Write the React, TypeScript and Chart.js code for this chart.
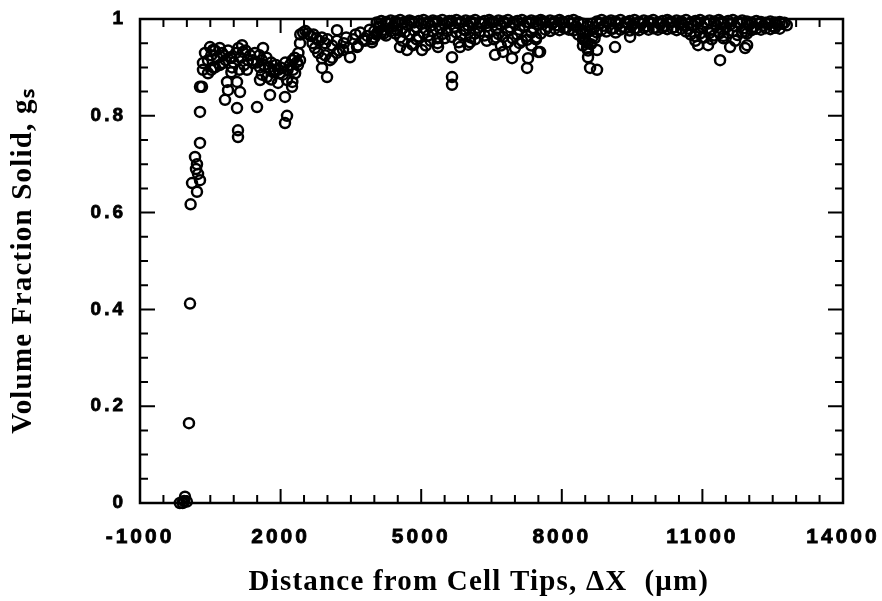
import React, { useEffect, useRef } from 'react';
import { Chart, registerables } from 'chart.js';

Chart.register(...registerables);

type P = [number, number];

// Distance from cell tips (µm), volume fraction solid
const tipPoints: P[] = [
  [-150, 0.0], [-90, 0.0], [-40, 0.013], [0, 0.003], [-60, 0.004], [45, 0.165], [67, 0.412],
  [80, 0.617], [110, 0.661], [216, 0.643], [280, 0.667], [174, 0.715], [216, 0.7], [238, 0.68],
  [195, 0.69], [280, 0.744], [280, 0.808], [323, 0.86],
];

const mushyZonePoints: P[] = [
  [494, 0.942], [558, 0.936], [387, 0.93], [1177, 0.946], [1198, 0.932], [1625, 0.94], [750, 0.93],
  [344, 0.909], [344, 0.895], [451, 0.888], [558, 0.9], [771, 0.909], [921, 0.921], [963, 0.9],
  [1305, 0.915], [1283, 0.895], [1411, 0.909], [1561, 0.9], [1561, 0.874], [1710, 0.88], [1881, 0.895],
  [1988, 0.888], [1945, 0.868], [2137, 0.874], [2265, 0.895], [2350, 0.911], [2244, 0.86], [280, 0.86],
  [857, 0.87], [1070, 0.87], [1134, 0.849], [878, 0.853], [814, 0.833], [1070, 0.816], [1497, 0.818],
  [1774, 0.843], [2094, 0.839], [2137, 0.8], [2094, 0.785], [1091, 0.77], [1091, 0.756],
  [450, 0.915], [520, 0.925], [600, 0.935], [650, 0.92], [700, 0.94], [780, 0.925], [830, 0.915],
  [880, 0.935], [950, 0.92], [1000, 0.91], [1050, 0.93], [1100, 0.94], [1150, 0.92], [1220, 0.905],
  [1250, 0.935], [1350, 0.925], [1400, 0.915], [1450, 0.93], [1500, 0.91], [1550, 0.925], [1600, 0.915],
  [1650, 0.905], [1700, 0.92], [1750, 0.9], [1800, 0.91], [1850, 0.89], [1900, 0.905], [1950, 0.895],
  [2000, 0.9], [2050, 0.885], [2100, 0.91], [2150, 0.895], [2200, 0.905], [2250, 0.915], [2300, 0.92],
  [2380, 0.93], [600, 0.9], [700, 0.905], [520, 0.895], [950, 0.89], [1120, 0.895], [1800, 0.875],
  [1600, 0.885], [2414, 0.915], [2370, 0.905], [2310, 0.888], [2250, 0.87],
];

const transitionPoints: P[] = [
  [2420, 0.968], [2480, 0.972], [2530, 0.975], [2580, 0.97], [2640, 0.965], [2700, 0.968], [2760, 0.96],
  [2820, 0.955], [2880, 0.962], [2950, 0.95], [3000, 0.958], [3204, 0.977], [2414, 0.95], [2734, 0.94],
  [2680, 0.95], [2800, 0.93], [2884, 0.919], [2884, 0.899], [2950, 0.925], [2991, 0.88], [3055, 0.915],
  [3100, 0.92], [3100, 0.945], [3204, 0.93], [3200, 0.955], [3250, 0.935], [3332, 0.936], [3350, 0.95],
  [3400, 0.962], [3450, 0.94], [3481, 0.921], [3550, 0.958], [3600, 0.968], [3631, 0.942], [3650, 0.945],
  [3700, 0.972], [3759, 0.957], [3800, 0.955], [3900, 0.978], [3951, 0.952], [4000, 0.962], [4058, 0.971],
  [4100, 0.985], [4200, 0.97], [4271, 0.992], [4300, 0.99], [4484, 0.977], [4548, 0.942], [4698, 0.936],
];

const dipPoints: P[] = [
  [4826, 0.946], [5018, 0.936], [5359, 0.942], [5658, 0.921], [5658, 0.88], [5658, 0.864], [5829, 0.942],
  [6042, 0.952], [6576, 0.926], [6746, 0.932], [6938, 0.919], [7259, 0.899], [7280, 0.919], [7493, 0.932],
  [7259, 0.957], [7536, 0.932], [8454, 0.96], [8539, 0.94], [8560, 0.921], [8603, 0.899], [8752, 0.895],
  [8752, 0.936], [9136, 0.942], [9457, 0.963], [8454, 0.97], [10908, 0.946], [11121, 0.946], [11377, 0.971],
  [11591, 0.942], [11377, 0.915], [11911, 0.94], [11954, 0.946], [11911, 0.973],
];

const midBandPoints: P[] = [
  [4600, 0.955], [4800, 0.948], [4900, 0.958], [5100, 0.945], [5200, 0.955], [5350, 0.95], [5500, 0.96],
  [5800, 0.952], [6000, 0.947], [6150, 0.958], [6400, 0.955], [6600, 0.962], [6700, 0.945], [6850, 0.952],
  [7000, 0.94], [7100, 0.95], [7350, 0.945], [7450, 0.958], [8450, 0.945], [8500, 0.955], [8560, 0.935],
  [8620, 0.948], [8700, 0.96], [10850, 0.955], [11000, 0.962], [11200, 0.958], [11450, 0.96], [11700, 0.955],
];

const upperBandPoints: P[] = [
  [4000, 0.975], [4100, 0.982], [4200, 0.978], [4300, 0.99], [4400, 0.985], [4500, 0.992], [4600, 0.98],
  [4700, 0.988], [4800, 0.995], [4900, 0.983], [5000, 0.99], [5100, 0.978], [5200, 0.986], [5300, 0.994],
  [5400, 0.981], [5500, 0.989], [5600, 0.996], [5700, 0.984], [5800, 0.991], [5900, 0.979], [6000, 0.987],
  [6100, 0.993], [6200, 0.982], [6300, 0.99], [6400, 0.985], [6500, 0.994], [6600, 0.98], [6700, 0.988],
  [6800, 0.992], [6900, 0.983], [7000, 0.99], [7100, 0.978], [7200, 0.986], [7300, 0.993], [7400, 0.981],
  [7500, 0.989], [7600, 0.995], [7700, 0.984], [7800, 0.991], [7900, 0.987], [8000, 0.994], [8100, 0.982],
  [8200, 0.99], [8300, 0.985], [8400, 0.978], [8500, 0.97], [8600, 0.975], [8700, 0.983], [8800, 0.991],
  [8900, 0.986], [9000, 0.993], [9100, 0.98], [9200, 0.989], [9300, 0.984], [9400, 0.992], [9500, 0.987],
  [9600, 0.981], [9700, 0.99], [9800, 0.985], [9900, 0.993], [10000, 0.982], [10100, 0.989], [10200, 0.986],
  [10300, 0.994], [10400, 0.983], [10500, 0.991], [10600, 0.987], [10700, 0.98], [10800, 0.988], [10900, 0.993],
  [11000, 0.984], [11100, 0.99], [11200, 0.978], [11300, 0.987], [11400, 0.994], [11500, 0.982], [11600, 0.989],
  [11700, 0.985], [11800, 0.992], [11900, 0.981], [12000, 0.988], [12100, 0.984], [12200, 0.99], [12300, 0.986],
  [12400, 0.989], [12500, 0.985], [12600, 0.988], [12700, 0.99], [12800, 0.987],
];

const edgeBandPoints: P[] = [
  [4050, 0.993], [4150, 0.996], [4250, 0.994], [4350, 0.997], [4450, 0.995], [4550, 0.998], [4650, 0.994],
  [4750, 0.997], [4850, 0.993], [4950, 0.996], [5050, 0.998], [5150, 0.994], [5250, 0.997], [5350, 0.995],
  [5450, 0.998], [5550, 0.993], [5650, 0.996], [5750, 0.998], [5850, 0.994], [5950, 0.997], [6050, 0.995],
  [6150, 0.998], [6250, 0.993], [6350, 0.996], [6450, 0.998], [6550, 0.994], [6650, 0.997], [6750, 0.995],
  [6850, 0.998], [6950, 0.993], [7050, 0.996], [7150, 0.998], [7250, 0.994], [7350, 0.997], [7450, 0.995],
  [7550, 0.998], [7650, 0.994], [7750, 0.997], [7850, 0.995], [7950, 0.998], [8050, 0.993], [8150, 0.996],
  [8250, 0.998], [8350, 0.994], [8450, 0.99], [8550, 0.985], [8650, 0.99], [8750, 0.995], [8850, 0.998],
  [8950, 0.994], [9050, 0.997], [9150, 0.995], [9250, 0.998], [9350, 0.993], [9450, 0.996], [9550, 0.998],
  [9650, 0.994], [9750, 0.997], [9850, 0.995], [9950, 0.998], [10050, 0.993], [10150, 0.996], [10250, 0.998],
  [10350, 0.994], [10450, 0.997], [10550, 0.995], [10650, 0.998], [10750, 0.993], [10850, 0.996], [10950, 0.998],
  [11050, 0.994], [11150, 0.997], [11250, 0.995], [11350, 0.998], [11450, 0.993], [11550, 0.996], [11650, 0.998],
  [11750, 0.994], [11850, 0.997], [11950, 0.995], [12050, 0.993], [12150, 0.996], [12250, 0.994], [12350, 0.992],
  [12450, 0.995], [12550, 0.993], [12650, 0.994], [12750, 0.992],
];

const lowerBandPoints: P[] = [
  [3850, 0.965], [3950, 0.958], [4050, 0.968], [4150, 0.972], [4250, 0.966], [4350, 0.975], [4450, 0.97],
  [4550, 0.962], [4650, 0.973], [4750, 0.968], [4850, 0.976], [4950, 0.964], [5050, 0.971], [5150, 0.966],
  [5250, 0.974], [5350, 0.96], [5450, 0.969], [5550, 0.975], [5650, 0.963], [5750, 0.972], [5850, 0.967],
  [5950, 0.976], [6050, 0.962], [6150, 0.97], [6250, 0.974], [6350, 0.966], [6450, 0.972], [6550, 0.958],
  [6650, 0.969], [6750, 0.963], [6850, 0.975], [6950, 0.96], [7050, 0.968], [7150, 0.955], [7250, 0.965],
  [7350, 0.972], [7450, 0.962], [7550, 0.97], [7650, 0.978], [7750, 0.975], [7850, 0.98], [7950, 0.977],
  [8050, 0.981], [8150, 0.978], [8250, 0.976], [8350, 0.968], [8450, 0.958], [8550, 0.95], [8650, 0.962],
  [8750, 0.972], [8850, 0.978], [8950, 0.974], [9050, 0.98], [9150, 0.972], [9250, 0.978], [9350, 0.982],
  [9450, 0.976], [9550, 0.98], [9650, 0.977], [9750, 0.982], [9850, 0.978], [9950, 0.981], [10050, 0.978],
  [10150, 0.982], [10250, 0.979], [10350, 0.981], [10450, 0.977], [10550, 0.98], [10650, 0.974], [10750, 0.968],
  [10850, 0.964], [10950, 0.97], [11050, 0.962], [11150, 0.971], [11250, 0.966], [11350, 0.973], [11450, 0.965],
  [11550, 0.971], [11650, 0.975], [11750, 0.967], [11850, 0.973], [11950, 0.97], [12050, 0.977], [12150, 0.98],
  [12250, 0.978], [12350, 0.981], [12450, 0.979], [12550, 0.982], [12650, 0.98],
];

const xTickValues = [-1000, 2000, 5000, 8000, 11000, 14000];
const xTickLabels = ['-1000', '2000', '5000', '8000', '11000', '14000'];
const yTickValues = [0, 0.2, 0.4, 0.6, 0.8, 1];
const yTickLabels = ['0', '0.2', '0.4', '0.6', '0.8', '1'];
const xMinorStep = 500;
const yMinorStep = 0.05;

const xTitle = 'Distance from Cell Tips, \u0394X  (\u03bcm)\u00a0\u00a0\u00a0';
const yTitle = 'Volume Fraction Solid, g\u209b';

const framePlugin = {
  id: 'frame',
  beforeDraw(chart: any) {
    chart.ctx.letterSpacing = '1.2px';
  },
  afterDatasetsDraw(chart: any) {
    const { ctx, chartArea: a, scales } = chart;
    const xs = scales.x;
    const ys = scales.y;
    ctx.save();
    ctx.strokeStyle = '#000';
    ctx.lineWidth = 2;
    ctx.beginPath();
    const xMin = xs.min;
    const xMax = xs.max;
    for (let k = 0; xMin + k * xMinorStep <= xMax + 1e-6; k++) {
      const v = xMin + k * xMinorStep;
      const px = xs.getPixelForValue(v);
      const major = xTickValues.indexOf(v) >= 0;
      const len = major ? 14 : 8;
      ctx.moveTo(px, a.bottom);
      ctx.lineTo(px, a.bottom - len);
      ctx.moveTo(px, a.top);
      ctx.lineTo(px, a.top + len);
    }
    for (let k = 0; k * yMinorStep <= ys.max + 1e-6; k++) {
      const v = k * yMinorStep;
      const py = ys.getPixelForValue(v);
      const major = k % 4 === 0;
      const len = major ? 15 : 8;
      ctx.moveTo(a.left, py);
      ctx.lineTo(a.left + len, py);
      ctx.moveTo(a.right, py);
      ctx.lineTo(a.right - len, py);
    }
    ctx.stroke();
    ctx.lineWidth = 2.5;
    ctx.strokeRect(a.left, a.top, a.right - a.left, a.bottom - a.top);
    ctx.restore();
    ctx.letterSpacing = '3px';
  },
  afterDraw(chart: any) {
    chart.ctx.letterSpacing = '0px';
  },
};

const zeroPadding = (s: any) => {
  s.paddingLeft = 0;
  s.paddingRight = 0;
  s.paddingTop = 0;
  s.paddingBottom = 0;
};

export default function App() {
  const ref = useRef<HTMLCanvasElement>(null);

  useEffect(() => {
    if (!ref.current) return;
    const all = [
      ...tipPoints,
      ...mushyZonePoints,
      ...transitionPoints,
      ...lowerBandPoints,
      ...midBandPoints,
      ...upperBandPoints,
      ...edgeBandPoints,
      ...dipPoints,
    ].map(([x, y]) => ({ x, y }));

    const chart = new Chart(ref.current, {
      type: 'scatter',
      data: {
        datasets: [
          {
            data: all,
            pointRadius: 5,
            pointBorderWidth: 2.5,
            pointBorderColor: '#000',
            pointBackgroundColor: 'rgba(0,0,0,0)',
            pointHoverRadius: 5,
            showLine: false,
            clip: false as any,
          },
        ],
      },
      options: {
        responsive: false,
        animation: false,
        devicePixelRatio: 1,
        layout: { autoPadding: false, padding: { left: 0, right: 39, top: 19, bottom: 0 } },
        plugins: { legend: { display: false }, tooltip: { enabled: false } },
        scales: {
          x: {
            type: 'linear',
            min: -1000,
            max: 14000,
            afterBuildTicks: (s: any) => {
              s.ticks = xTickValues.map((value) => ({ value }));
            },
            afterFit: (s: any) => {
              s.height = 98;
              zeroPadding(s);
            },
            ticks: {
              callback: (v: any) => xTickLabels[xTickValues.indexOf(Number(v))],
              font: { family: 'Liberation Sans', size: 21, weight: 'bold' },
              color: '#000',
              textStrokeColor: '#000',
              textStrokeWidth: 0.8,
              padding: 22,
              maxRotation: 0,
              autoSkip: false,
              z: 1,
            },
            grid: { display: false, drawTicks: false },
            border: { display: false },
            title: {
              display: true,
              text: xTitle,
              font: { family: 'Liberation Serif', size: 29, weight: 'bold' },
              color: '#000',
              padding: { top: 0, bottom: 1 },
            },
          },
          y: {
            type: 'linear',
            min: 0,
            max: 1,
            afterBuildTicks: (s: any) => {
              s.ticks = yTickValues.map((value) => ({ value }));
            },
            afterFit: (s: any) => {
              s.width = 140;
              zeroPadding(s);
            },
            ticks: {
              callback: (v: any) => yTickLabels[yTickValues.indexOf(Number(v))],
              font: { family: 'Liberation Sans', size: 19, weight: 'bold' },
              color: '#000',
              textStrokeColor: '#000',
              textStrokeWidth: 0.8,
              padding: 14,
              autoSkip: false,
              z: 1,
            },
            grid: { display: false, drawTicks: false },
            border: { display: false },
            title: {
              display: true,
              text: yTitle,
              font: { family: 'Liberation Serif', size: 29, weight: 'bold' },
              color: '#000',
              padding: { top: 6, bottom: 0 },
            },
          },
        },
      },
      plugins: [framePlugin],
    });
    return () => chart.destroy();
  }, []);

  return (
    <div style={{ position: 'absolute', left: 0, top: 0, width: 882, height: 601, background: '#fff' }}>
      <canvas ref={ref} width={882} height={601} style={{ display: 'block' }} />
    </div>
  );
}
